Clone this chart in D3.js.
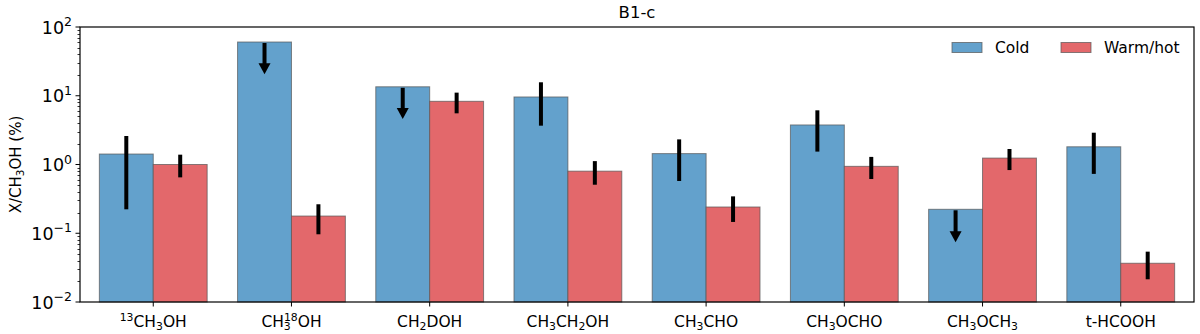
<!DOCTYPE html>
<html>
<head>
<meta charset="utf-8">
<script src="https://cdn.jsdelivr.net/npm/d3@7"></script>
<style>
  body { margin: 0; background: #fff; }
  text { font-family: "DejaVu Sans", sans-serif; fill: #000; }
</style>
</head>
<body>
<script>
// label markup: _x subscript, ^{..} superscript
var categories = ['^{13}CH_3OH', 'CH_3^{18}OH', 'CH_2DOH', 'CH_3CH_2OH', 'CH_3CHO', 'CH_3OCHO', 'CH_3OCH_3', 't-HCOOH'];

var cold = [1.42, 60.5, 13.5, 9.6, 1.44, 3.76, 0.223, 1.81];
var coldHi = [2.6, 60.5, 13.5, 15.7, 2.32, 6.14, 0.223, 2.9];
var coldLo = [0.223, 20.5, 4.6, 3.67, 0.575, 1.54, 0.074, 0.73];
var coldUpperLimit = [false, true, true, false, false, false, true, false];

var warm = [1.0, 0.178, 8.3, 0.80, 0.241, 0.94, 1.24, 0.0366];
var warmHi = [1.39, 0.264, 11.1, 1.12, 0.344, 1.29, 1.68, 0.054];
var warmLo = [0.65, 0.0966, 5.55, 0.508, 0.146, 0.615, 0.83, 0.0214];

var yMajor = [-2, -1, 0, 1, 2];

var width = 1200, height = 334;
var margin = {top: 27, right: 6, bottom: 32, left: 80};
var barW = 0.39;
var blue = '#63a1cc', red = '#e3686b';

var svg = d3.select('body').append('svg')
    .attr('width', width)
    .attr('height', height);

var x = d3.scaleLinear()
    .domain([-0.53, categories.length - 1 + 0.53])
    .range([margin.left, width - margin.right]);

var y = d3.scaleLog()
    .domain([0.01, 100])
    .range([height - margin.bottom, margin.top]);

// add text with sub/superscripts into a text element
function richText(sel, s, size) {
  var re = /(\^\{[^}]*\}|_\{[^}]*\}|_.|[^_^]+)/g;
  var m, prevSub = null, back = 0;
  var small = size * 0.7;
  while ((m = re.exec(s)) !== null) {
    var tok = m[0];
    if (tok[0] === '^') {
      var t = tok.slice(2, -1);
      var ts = sel.append('tspan').attr('font-size', small).attr('dy', back - size * 0.4).text(t);
      if (prevSub) ts.attr('dx', -prevSub.length * small * 0.636);
      back = size * 0.4;
      prevSub = null;
    } else if (tok[0] === '_') {
      var t2 = tok[1] === '{' ? tok.slice(2, -1) : tok.slice(1);
      sel.append('tspan').attr('font-size', small).attr('dy', back + size * 0.2).text(t2);
      back = -size * 0.2;
      prevSub = t2;
    } else {
      sel.append('tspan').attr('font-size', size).attr('dy', back).text(tok);
      back = 0;
      prevSub = null;
    }
  }
}

var plot = svg.append('g');

// cold bars
plot.selectAll('rect.cold')
  .data(cold)
  .enter().append('rect')
  .attr('class', 'cold')
  .attr('x', function (d, i) { return x(i - barW); })
  .attr('width', function (d, i) { return x(i) - x(i - barW); })
  .attr('y', function (d) { return y(d); })
  .attr('height', function (d) { return y(0.01) - y(d); })
  .attr('fill', blue)
  .attr('stroke', '#555')
  .attr('stroke-opacity', 0.7)
  .attr('stroke-width', 1);

// warm bars
plot.selectAll('rect.warm')
  .data(warm)
  .enter().append('rect')
  .attr('class', 'warm')
  .attr('x', function (d, i) { return x(i); })
  .attr('width', function (d, i) { return x(i + barW) - x(i); })
  .attr('y', function (d) { return y(d); })
  .attr('height', function (d) { return y(0.01) - y(d); })
  .attr('fill', red)
  .attr('stroke', '#555')
  .attr('stroke-opacity', 0.7)
  .attr('stroke-width', 1);

// error bars and upper limits
cold.forEach(function (v, i) {
  var cx = x(i - barW / 2);
  if (coldUpperLimit[i]) {
    var tip = y(coldLo[i]);
    var top = y(coldHi[i]) + 1;
    plot.append('line')
      .attr('x1', cx).attr('x2', cx)
      .attr('y1', top).attr('y2', tip - 8)
      .attr('stroke', '#000').attr('stroke-width', 4);
    plot.append('path')
      .attr('d', 'M' + (cx - 6) + ',' + (tip - 11) + 'L' + (cx + 6) + ',' + (tip - 11) + 'L' + cx + ',' + tip + 'Z')
      .attr('fill', '#000');
  } else {
    plot.append('line')
      .attr('x1', cx).attr('x2', cx)
      .attr('y1', y(coldHi[i])).attr('y2', y(coldLo[i]))
      .attr('stroke', '#000').attr('stroke-width', 4);
  }
});

warm.forEach(function (v, i) {
  var cx = x(i + barW / 2);
  plot.append('line')
    .attr('x1', cx).attr('x2', cx)
    .attr('y1', y(warmHi[i])).attr('y2', y(warmLo[i]))
    .attr('stroke', '#000').attr('stroke-width', 4);
});

// frame
svg.append('rect')
  .attr('x', margin.left)
  .attr('y', margin.top)
  .attr('width', width - margin.right - margin.left)
  .attr('height', height - margin.bottom - margin.top)
  .attr('fill', 'none')
  .attr('stroke', '#000')
  .attr('stroke-width', 1.2);

// y axis ticks
var yAxis = svg.append('g');
var minor = [];
for (var k = -2; k < 2; k++) {
  for (var m = 2; m <= 9; m++) minor.push(m * Math.pow(10, k));
}
yAxis.selectAll('line.minor')
  .data(minor)
  .enter().append('line')
  .attr('x1', margin.left - 2.5).attr('x2', margin.left)
  .attr('y1', function (d) { return Math.round(y(d)) + 0.5; })
  .attr('y2', function (d) { return Math.round(y(d)) + 0.5; })
  .attr('stroke', '#000').attr('stroke-width', 0.8);

yAxis.selectAll('line.major')
  .data(yMajor)
  .enter().append('line')
  .attr('x1', margin.left - 4.5).attr('x2', margin.left)
  .attr('y1', function (d) { return y(Math.pow(10, d)); })
  .attr('y2', function (d) { return y(Math.pow(10, d)); })
  .attr('stroke', '#000').attr('stroke-width', 1);

yAxis.selectAll('text.tick')
  .data(yMajor)
  .enter().append('text')
  .attr('x', margin.left - 8)
  .attr('y', function (d) { return y(Math.pow(10, d)) + 6.5; })
  .attr('text-anchor', 'end')
  .attr('font-size', 17.5)
  .each(function (d) {
    var t = d3.select(this);
    t.append('tspan').text('10');
    t.append('tspan').attr('font-size', 12.5).attr('dy', -7.5).text(d < 0 ? '\u2212' + (-d) : d);
  });

// x axis ticks and labels
var xAxis = svg.append('g');
xAxis.selectAll('line')
  .data(categories)
  .enter().append('line')
  .attr('x1', function (d, i) { return x(i); })
  .attr('x2', function (d, i) { return x(i); })
  .attr('y1', height - margin.bottom)
  .attr('y2', height - margin.bottom + 4.5)
  .attr('stroke', '#000').attr('stroke-width', 1);

xAxis.selectAll('text')
  .data(categories)
  .enter().append('text')
  .attr('x', function (d, i) { return x(i); })
  .attr('y', height - margin.bottom + 25)
  .attr('text-anchor', 'middle')
  .attr('font-size', 15.5)
  .each(function (d) { richText(d3.select(this), d, 15.5); });

// y label
var yl = svg.append('text')
  .attr('transform', 'translate(21,' + ((margin.top + height - margin.bottom) / 2) + ') rotate(-90)')
  .attr('text-anchor', 'middle')
  .attr('font-size', 15);
richText(yl, 'X/CH_3OH (%)', 15);

// title
svg.append('text')
  .attr('x', (margin.left + width - margin.right) / 2)
  .attr('y', 17.5)
  .attr('text-anchor', 'middle')
  .attr('font-size', 16.5)
  .text('B1-c');

// legend
var legend = svg.append('g');
var legendItems = [{name: 'Cold', color: blue, x: 952}, {name: 'Warm/hot', color: red, x: 1061}];
legend.selectAll('rect')
  .data(legendItems)
  .enter().append('rect')
  .attr('x', function (d) { return d.x; })
  .attr('y', 42.5)
  .attr('width', 30)
  .attr('height', 10)
  .attr('fill', function (d) { return d.color; })
  .attr('stroke', '#555')
  .attr('stroke-opacity', 0.7);
legend.selectAll('text')
  .data(legendItems)
  .enter().append('text')
  .attr('x', function (d) { return d.x + 43; })
  .attr('y', 53)
  .attr('font-size', 15.5)
  .text(function (d) { return d.name; });
</script>
</body>
</html>
